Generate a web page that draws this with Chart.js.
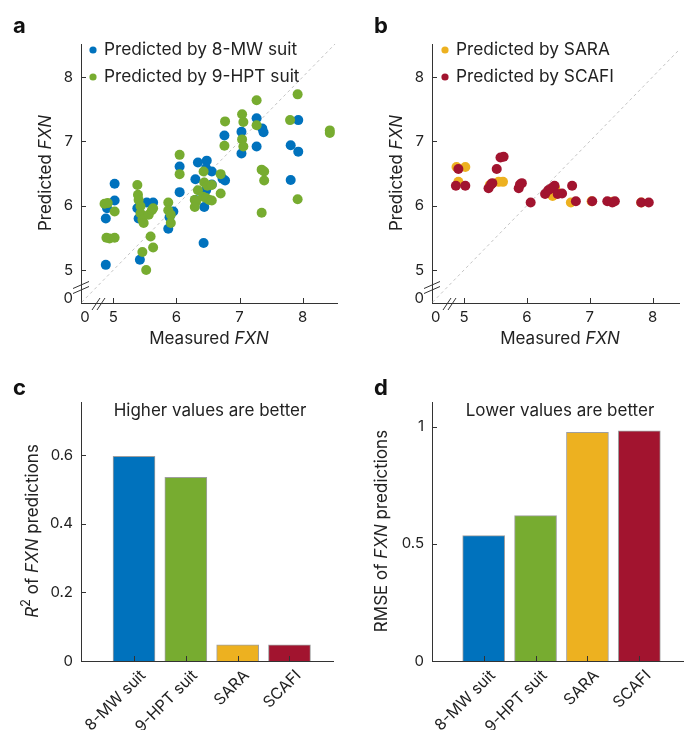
<!DOCTYPE html>
<html><head><meta charset="utf-8">
<script src="https://cdn.jsdelivr.net/npm/chart.js@4.4.1/dist/chart.umd.min.js"></script>
<style>
html,body{margin:0;padding:0;background:#fff;}
body{width:684px;height:730px;position:relative;overflow:hidden;}
canvas{position:absolute;}
</style></head><body>
<canvas id="ca" width="342" height="365" style="left:0;top:0"></canvas>
<canvas id="cb" width="342" height="365" style="left:342px;top:0"></canvas>
<canvas id="cc" width="342" height="365" style="left:0;top:365px"></canvas>
<canvas id="cd" width="342" height="365" style="left:342px;top:365px"></canvas>
<script>
// ---------- data ----------
const mwX = [4.88,4.88,4.90,5.02,5.02,5.38,5.40,5.42,5.53,5.63,5.87,5.89,5.95,6.05,6.05,6.30,6.34,6.43,6.44,6.47,6.47,6.48,6.56,6.56,6.30,6.73,6.77,6.76,7.03,7.03,7.27,7.36,7.38,7.27,7.81,7.81,7.93,7.93];
const mwY = [5.08,5.80,5.96,6.34,6.08,5.96,5.80,5.16,6.05,6.05,5.64,5.82,5.91,6.61,6.21,6.09,6.67,5.42,5.98,6.24,6.58,6.70,6.53,6.33,6.41,6.42,6.39,7.09,7.15,6.81,7.36,7.20,7.14,6.92,6.94,6.40,7.33,6.84];
const hptX = [4.86,4.91,5.02,4.89,4.94,5.02,5.38,5.39,5.40,5.43,5.43,5.46,5.48,5.56,5.61,5.63,5.59,5.63,5.46,5.52,5.87,5.87,5.91,5.91,6.05,6.05,6.29,6.31,6.29,6.34,6.42,6.47,6.52,6.56,6.43,6.44,6.49,6.56,6.70,6.70,6.77,6.76,7.04,7.06,7.04,7.06,7.27,7.27,7.35,7.39,7.39,7.35,7.80,7.92,7.92,8.43,8.43];
const hptY = [6.03,6.04,5.91,5.50,5.49,5.50,6.32,6.17,6.09,5.99,5.88,5.78,5.73,5.86,5.93,5.96,5.52,5.35,5.28,5.00,6.05,5.93,5.86,5.73,6.79,6.49,6.09,6.06,5.98,6.24,6.14,6.12,6.09,6.08,6.53,6.36,6.31,6.32,6.49,6.19,7.31,6.93,7.42,7.30,7.03,6.92,7.64,7.25,6.56,6.53,6.39,5.89,7.33,7.73,6.10,7.17,7.13];
const saraX = [4.88,5.02,4.91,5.41,5.55,5.62,6.41,6.70,6.35,6.45,7.03,7.36,7.82];
const saraY = [6.60,6.60,6.37,6.32,6.37,6.37,6.15,6.05,6.22,6.27,6.07,6.06,6.05];
const scafiX = [4.91,4.87,5.02,5.52,5.58,5.63,5.39,5.43,5.45,5.87,5.89,5.92,6.06,6.29,6.34,6.39,6.44,6.49,6.56,6.72,6.78,7.04,7.28,7.36,7.40,7.82,7.94];
const scafiY = [6.57,6.31,6.31,6.57,6.75,6.76,6.27,6.33,6.35,6.27,6.33,6.35,6.05,6.18,6.24,6.27,6.31,6.18,6.19,6.31,6.07,6.07,6.07,6.05,6.07,6.05,6.05];
const diagonal = [4.3, 8.7];
const scatterTicks = [4.55, 5, 6, 7, 8];
const scatterTickLabels = ['0', '5', '6', '7', '8'];
const methods = ['8-MW suit', '9-HPT suit', 'SARA', 'SCAFI'];
const methodPos = [1, 2, 3, 4];
const r2Values = [0.597, 0.536, 0.047, 0.047];
const rmseValues = [0.535, 0.620, 0.976, 0.982];
const r2Ticks = [0, 0.2, 0.4, 0.6];
const r2TickLabels = ['0', '0.2', '0.4', '0.6'];
const rmseTicks = [0, 0.5, 1];
const rmseTickLabels = ['0', '0.5', '1'];

// ---------- style ----------
const FONT = 'Inter, "Liberation Sans", Arial, sans-serif';
const C_BLUE = '#0072BD', C_GREEN = '#77AC30', C_YEL = '#EDB120', C_RED = '#A2142F';
const TXT = '#222';
const W = 342, H = 365;

function pts(xs, ys){ return xs.map((x,i)=>({x:x, y:ys[i]})); }

function rich(ctx, parts, cx, cy, rot, size){
  ctx.save(); ctx.translate(cx, cy); ctx.rotate(rot);
  ctx.fillStyle = TXT; ctx.textBaseline = 'middle'; ctx.textAlign = 'left';
  const f = p => (p.i?'italic ':'') + (p.b?'bold ':'') + (p.sup?Math.round(size*0.75):size) + 'px ' + FONT;
  let tot = 0;
  parts.forEach(p => { ctx.font = f(p); p.w = ctx.measureText(p.t).width; tot += p.w; });
  let x = -tot/2;
  parts.forEach(p => { ctx.font = f(p); ctx.fillText(p.t, x, p.sup ? -size*0.4 : 0); x += p.w; });
  ctx.restore();
}

const decor = {
  id: 'decor',
  afterDatasetsDraw(chart, args, o){
    const ctx = chart.ctx, a = chart.chartArea, xs = chart.scales.x, ys = chart.scales.y;
    ctx.save();
    ctx.strokeStyle = '#333'; ctx.lineWidth = 1;
    (o.tx||[]).forEach(v => { const p = Math.round(xs.getPixelForValue(v))+0.5; ctx.beginPath(); ctx.moveTo(p, a.bottom); ctx.lineTo(p, a.bottom-5); ctx.stroke(); });
    (o.ty||[]).forEach(v => { const p = Math.round(ys.getPixelForValue(v))+0.5; ctx.beginPath(); ctx.moveTo(a.left, p); ctx.lineTo(a.left+5, p); ctx.stroke(); });
    if (o.breaks){
      ctx.strokeStyle = '#333';
      [[a.left, a.bottom-18],[a.left, a.bottom-13]].forEach(c => { ctx.beginPath(); ctx.moveTo(c[0]-8, c[1]+3.5); ctx.lineTo(c[0]+8, c[1]-3.5); ctx.stroke(); });
      [[a.left+15, a.bottom+1],[a.left+20, a.bottom+1]].forEach(c => { ctx.beginPath(); ctx.moveTo(c[0]-4, c[1]+6); ctx.lineTo(c[0]+4, c[1]-6); ctx.stroke(); });
    }
    ctx.restore();
  },
  afterDraw(chart, args, o){
    const ctx = chart.ctx, a = chart.chartArea, xs = chart.scales.x;
    ctx.save();
    if (o.panel){ ctx.font = 'bold 22px ' + FONT; ctx.fillStyle = '#111'; ctx.textBaseline='middle'; ctx.textAlign='left'; ctx.fillText(o.panel[0], o.panel[1], o.panel[2]); }
    (o.legend||[]).forEach(l => {
      ctx.fillStyle = l.c; ctx.beginPath(); ctx.arc(l.x, l.y, 3.6, 0, Math.PI*2); ctx.fill();
      ctx.fillStyle = TXT; ctx.font = '17.3px ' + FONT; ctx.textBaseline='middle'; ctx.textAlign='left';
      ctx.fillText(l.t, l.x+11, l.y);
    });
    if (o.xlabels){
      ctx.fillStyle = TXT; ctx.font = '15.8px ' + FONT; ctx.textAlign='right'; ctx.textBaseline='middle';
      o.xlabels.values.forEach((v,i) => {
        const px = xs.getPixelForValue(v);
        ctx.save(); ctx.translate(px + 9, a.bottom + 12); ctx.rotate(-Math.PI/4);
        ctx.fillText(o.xlabels.labels[i], 0, 0); ctx.restore();
      });
    }
    (o.texts||[]).forEach(t => rich(ctx, t.parts, t.x, t.y, t.rot||0, t.size||17));
    ctx.restore();
  }
};

function scaleX(min, max, ticks, labels, bottom, hideLabels){
  return {
    type:'linear', min:min, max:max, offset:false,
    grid:{display:false, drawTicks:false, offset:false},
    border:{display:true, color:'#333', width:1},
    ticks:{display: !hideLabels, color:TXT, font:{family:FONT, size:15}, padding:5, autoSkip:false,
           minRotation:0, maxRotation:0, callback:(v,i)=>labels[i]},
    afterBuildTicks: s => { s.ticks = ticks.map(v=>({value:v})); },
    afterFit: s => { s.height = H - bottom; }
  };
}
function scaleY(min, max, ticks, labels, left){
  return {
    type:'linear', min:min, max:max,
    grid:{display:false, drawTicks:false},
    border:{display:true, color:'#333', width:1},
    ticks:{color:TXT, font:{family:FONT, size:15}, padding:8, autoSkip:false, callback:(v,i)=>labels[i]},
    afterBuildTicks: s => { s.ticks = ticks.map(v=>({value:v})); },
    afterFit: s => { s.width = left; }
  };
}
const common = { responsive:false, animation:false, events:[], devicePixelRatio:1 };

function scatterChart(id, dsA, dsB, xmin, xmax, left, right, legend, panel, yTitleX, xTitleX){
  new Chart(document.getElementById(id), {
    type:'scatter',
    data:{ datasets:[
      { data: pts(diagonal, diagonal), type:'line', borderColor:'#c4c4c4', borderWidth:1, borderDash:[3,3], pointRadius:0, order:5 },
      dsA, dsB
    ]},
    options: Object.assign({}, common, {
      layout:{ padding:{ top:44, right: W-right, left:0, bottom:0 } },
      scales:{ x: scaleX(xmin, xmax, scatterTicks, scatterTickLabels, 303, false), y: scaleY(4.487, 8.513, scatterTicks, scatterTickLabels, left) },
      plugins:{ legend:{display:false}, tooltip:{enabled:false},
        decor:{ tx:[5,6,7,8], ty:[5,6,7,8], breaks:true, legend:legend, panel:panel,
          texts:[
            {parts:[{t:'Predicted '},{t:'FXN',i:true}], x:yTitleX, y:173, rot:-Math.PI/2, size:17},
            {parts:[{t:'Measured '},{t:'FXN',i:true}], x:xTitleX, y:339, size:17}
          ]}
      }
    }),
    plugins:[decor]
  });
}

scatterChart('ca',
  { data: pts(mwX, mwY), backgroundColor:C_BLUE, pointRadius:5, pointBorderWidth:0, order:2 },
  { data: pts(hptX, hptY), backgroundColor:C_GREEN, pointRadius:5, pointBorderWidth:0, order:1 },
  4.487, 8.544, 81, 342,
  [{c:C_BLUE, x:93, y:50, t:'Predicted by 8-MW suit'},{c:C_GREEN, x:93, y:77, t:'Predicted by 9-HPT suit'}],
  ['a', 13, 26], 46, 209);

scatterChart('cb',
  { data: pts(saraX, saraY), backgroundColor:C_YEL, pointRadius:5, pointBorderWidth:0, order:2 },
  { data: pts(scafiX, scafiY), backgroundColor:C_RED, pointRadius:5, pointBorderWidth:0, order:1 },
  4.49, 8.421, 90, 342,
  [{c:C_YEL, x:103, y:50, t:'Predicted by SARA'},{c:C_RED, x:103, y:77, t:'Predicted by SCAFI'}],
  ['b', 32, 26], 55, 218);

function barChart(id, vals, ymax, yt, ytl, xmin, xmax, left, right, panel, title, titleX, yTitle, yTitleX){
  new Chart(document.getElementById(id), {
    type:'bar',
    data:{ datasets:[{ data: pts(methodPos, vals), backgroundColor:[C_BLUE,C_GREEN,C_YEL,C_RED],
      borderColor:'rgba(95,95,95,0.6)', borderWidth:1, barThickness:42 }]},
    options: Object.assign({}, common, {
      layout:{ padding:{ top:37, right: W-right, left:0, bottom:0 } },
      scales:{ x: scaleX(xmin, xmax, methodPos, methods, 296, true), y: scaleY(0, ymax, yt, ytl, left) },
      plugins:{ legend:{display:false}, tooltip:{enabled:false},
        decor:{ tx:methodPos, ty:yt.slice(1), panel:panel, xlabels:{values:methodPos, labels:methods},
          texts:[
            {parts:[{t:title}], x:titleX, y:46, size:17},
            {parts:yTitle, x:yTitleX, y:166, rot:-Math.PI/2, size:17}
          ]}
      }
    }),
    plugins:[decor]
  });
}

barChart('cc', r2Values, 0.7555, r2Ticks, r2TickLabels, -0.023, 4.84, 81, 333, ['c', 13, 23],
  'Higher values are better', 210,
  [{t:'R',i:true},{t:'2',sup:true},{t:' of '},{t:'FXN',i:true},{t:' predictions'}], 33);
barChart('cd', rmseValues, 1.105, rmseTicks, rmseTickLabels, 0.004, 4.861, 90, 342, ['d', 32, 23],
  'Lower values are better', 218,
  [{t:'RMSE of '},{t:'FXN',i:true},{t:' predictions'}], 40);
</script>
</body></html>
